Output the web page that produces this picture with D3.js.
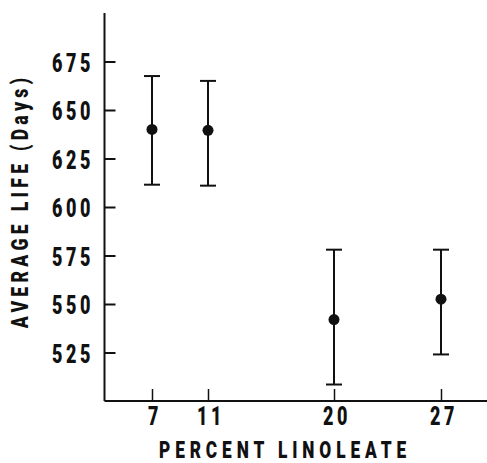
<!DOCTYPE html>
<html>
<head>
<meta charset="utf-8">
<script src="https://cdn.jsdelivr.net/npm/d3@7"></script>
<style>
  body { margin: 0; background: #fff; }
  text { font-family: Roboto, "DejaVu Sans Condensed", sans-serif; font-weight: 900; fill: #111; }
</style>
</head>
<body>
<svg id="chart"></svg>
<script>
let svgWidth = 487, svgHeight = 463

// data
let linoleate = [7, 11, 20, 27]
let avgLife = [640, 639.5, 542, 552.5]
let upperErr = [667.5, 665, 578, 578]
let lowerErr = [611.5, 611, 508.5, 524]
let yTicks = [525, 550, 575, 600, 625, 650, 675]

let svg = d3.select('#chart').attr('width', svgWidth).attr('height', svgHeight)

// x positions in the figure are not evenly spaced, so a piecewise scale
let x = d3.scaleLinear().domain([7, 20, 27]).range([152, 334, 441])
let y = d3.scaleLinear().domain([500, 700]).range([401, 13])

let axisX0 = 104.5, axisY0 = 401
let squeeze = 0.72  // the lettering in the figure is condensed

// y axis, ticks pointing inward
let yAxis = svg.append('g').attr('transform', `translate(${axisX0},0)`)
  .call(d3.axisRight(y).tickValues(yTicks).tickSize(11).tickFormat(''))
yAxis.select('.domain').attr('d', `M0,${y(700)}V${axisY0}`)
  .attr('stroke', '#111').attr('stroke-width', 2)
yAxis.selectAll('line').attr('stroke', '#111').attr('stroke-width', 2)

svg.append('g').selectAll('text').data(yTicks).enter().append('text')
  .attr('transform', d => `translate(94,${y(d) + 10}) scale(${squeeze},1)`)
  .attr('text-anchor', 'end')
  .style('font-size', '25px').style('letter-spacing', '5px')
  .text(d => d)

// x axis, ticks pointing up
let xAxis = svg.append('g').attr('transform', `translate(0,${axisY0})`)
  .call(d3.axisTop(x).tickValues(linoleate).tickSize(12).tickFormat(''))
xAxis.select('.domain').attr('d', `M${axisX0},0H487`).attr('stroke', '#111').attr('stroke-width', 2)
xAxis.selectAll('line').attr('stroke', '#111').attr('stroke-width', 1.5)

svg.append('g').selectAll('text').data(linoleate).enter().append('text')
  .attr('transform', d => `translate(${x(d) + 3},425) scale(${squeeze},1)`)
  .attr('text-anchor', 'middle')
  .style('font-size', '25px').style('letter-spacing', '5px')
  .text(d => d)

// error bars
let bars = svg.append('g').selectAll('g').data(linoleate).enter().append('g')
bars.append('line')
  .attr('x1', d => x(d)).attr('x2', d => x(d))
  .attr('y1', (d, i) => y(upperErr[i])).attr('y2', (d, i) => y(lowerErr[i]))
  .attr('stroke', '#111').attr('stroke-width', 2)
bars.append('line')
  .attr('x1', d => x(d) - 8).attr('x2', d => x(d) + 8)
  .attr('y1', (d, i) => y(upperErr[i])).attr('y2', (d, i) => y(upperErr[i]))
  .attr('stroke', '#111').attr('stroke-width', 2)
bars.append('line')
  .attr('x1', d => x(d) - 8).attr('x2', d => x(d) + 8)
  .attr('y1', (d, i) => y(lowerErr[i])).attr('y2', (d, i) => y(lowerErr[i]))
  .attr('stroke', '#111').attr('stroke-width', 2)
bars.append('circle')
  .attr('cx', d => x(d)).attr('cy', (d, i) => y(avgLife[i]))
  .attr('r', 5.5).attr('fill', '#111')

// axis titles
svg.append('text')
  .attr('transform', `translate(27.5,201) rotate(-90) scale(${squeeze},1)`)
  .attr('text-anchor', 'middle')
  .style('font-size', '24.5px').style('letter-spacing', '6px')
  .text('AVERAGE LIFE  (Days)')

svg.append('text')
  .attr('transform', `translate(285,458) scale(${squeeze},1)`)
  .attr('text-anchor', 'middle')
  .style('font-size', '24px').style('letter-spacing', '6.8px')
  .text('PERCENT LINOLEATE')
</script>
</body>
</html>
